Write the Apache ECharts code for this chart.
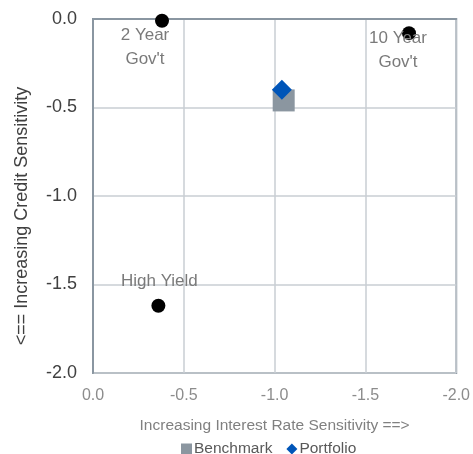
<!DOCTYPE html>
<html><head><meta charset="utf-8">
<script src="https://cdn.jsdelivr.net/npm/echarts@6/dist/echarts.min.js"></script>
<style>html,body{margin:0;padding:0;background:#fff}#c{width:473px;height:454px}</style>
</head><body><div id="c"></div>
<script>
const refNames = ["2 Year\nGov't", "10 Year\nGov't", "High Yield"];
const refX = [-0.38, -1.74, -0.36];
const refY = [-0.01, -0.08, -1.62];
const benchmark = [-1.05, -0.46];
const portfolio = [-1.04, -0.40];

const labelOffsets = [[-17, 27], [-11, 17], [1, -24]];
const refData = refNames.map((n, i) => ({
  value: [refX[i], refY[i]], name: n,
  label: {show: true, formatter: n, offset: labelOffsets[i], position: 'inside'}
}));

const chart = echarts.init(document.getElementById('c'));
const narrow = "'Liberation Sans Narrow', 'Liberation Sans', Arial, sans-serif";
const sans = "'Liberation Sans', Arial, sans-serif";
chart.setOption({
  animation: false,
  grid: {left: 93, right: 15, top: 19, bottom: 81, show: true, borderColor: '#8a96a1', borderWidth: 2, backgroundColor: 'transparent'},
  xAxis: {
    type: 'value', min: -2, max: 0, interval: 0.5, inverse: true,
    name: 'Increasing Interest Rate Sensitivity ==>', nameLocation: 'middle', nameGap: 45,
    nameTextStyle: {color: '#808080', fontFamily: narrow, fontSize: 15.5},
    axisLine: {show: true, lineStyle: {color: '#8a96a1', width: 2}},
    axisTick: {show: false},
    splitLine: {lineStyle: {color: '#c9ced3', width: 1.5}},
    axisLabel: {color: '#8c8c8c', fontFamily: narrow, fontSize: 16, margin: 15, formatter: v => v.toFixed(1)}
  },
  yAxis: {
    type: 'value', min: -2, max: 0, interval: 0.5,
    name: '<== Increasing Credit Sensitivity', nameLocation: 'middle', nameGap: 62, nameRotate: 90,
    nameTextStyle: {color: '#404040', fontFamily: sans, fontSize: 18, padding: [0, 40, 0, 0]},
    axisLine: {show: true, lineStyle: {color: '#8a96a1', width: 2}},
    axisTick: {show: false},
    splitLine: {lineStyle: {color: '#c9ced3', width: 1.5}},
    axisLabel: {color: '#404040', fontFamily: sans, fontSize: 18, margin: 16, formatter: v => v.toFixed(1)}
  },
  legend: {
    data: [{name: 'Benchmark', icon: 'rect'}, {name: 'Portfolio', icon: 'diamond'}],
    top: 436, left: 176, itemWidth: 11, itemHeight: 11, itemGap: 14,
    textStyle: {color: '#595959', fontFamily: narrow, fontSize: 15.5, padding: [0, 0, 0, -3]}
  },
  series: [
    {name: 'refs', type: 'scatter', symbol: 'circle', symbolSize: 14,
     itemStyle: {color: '#000', opacity: 1}, data: refData, z: 3,
     label: {color: '#7a7a7a', fontFamily: narrow, fontSize: 17, lineHeight: 24}},
    {name: 'Benchmark', type: 'scatter', symbol: 'rect', symbolSize: 22,
     itemStyle: {color: '#8b96a0', opacity: 1}, data: [benchmark], z: 2},
    {name: 'Portfolio', type: 'scatter', symbol: 'diamond', symbolSize: [20, 20],
     itemStyle: {color: '#0055b8', opacity: 1}, data: [portfolio], z: 4}
  ]
});
</script></body></html>
